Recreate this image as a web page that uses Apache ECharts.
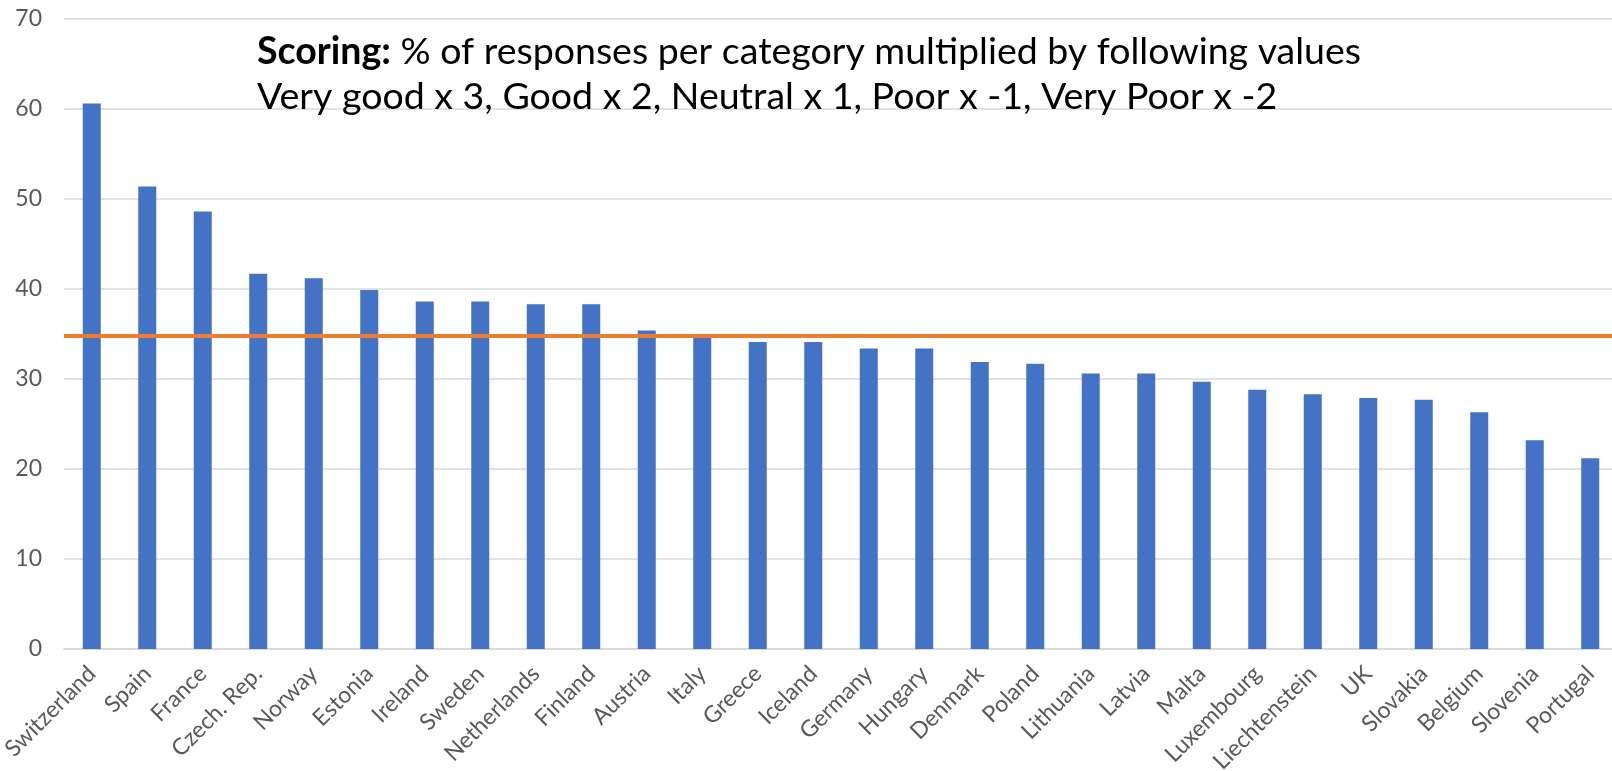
<!DOCTYPE html>
<html>
<head>
<meta charset="utf-8">
<script src="https://cdn.jsdelivr.net/npm/echarts@6/dist/echarts.min.js"></script>
<style>
html,body{margin:0;padding:0;background:#fff;}
#chart{width:1612px;height:771px;}
</style>
</head>
<body>
<div id="chart"></div>
<script>
const categories = ["Switzerland","Spain","France","Czech. Rep.","Norway","Estonia","Ireland","Sweden","Netherlands","Finland","Austria","Italy","Greece","Iceland","Germany","Hungary","Denmark","Poland","Lithuania","Latvia","Malta","Luxembourg","Liechtenstein","UK","Slovakia","Belgium","Slovenia","Portugal"];
const scores = [60.6,51.4,48.6,41.7,41.2,39.9,38.6,38.6,38.3,38.3,35.4,34.7,34.1,34.1,33.4,33.4,31.9,31.7,30.6,30.6,29.7,28.8,28.3,27.9,27.7,26.3,23.2,21.2];
const averageScore = 34.8;
const yTicks = {min: 0, max: 70, interval: 10};
const titleLine1Bold = "Scoring:";
const titleLine1 = " % of responses per category multiplied by following values";
const titleLine2 = "Very good x 3, Good x 2, Neutral x 1, Poor x -1, Very Poor x -2";

const chart = echarts.init(document.getElementById('chart'));
chart.setOption({
  animation: false,
  backgroundColor: '#ffffff',
  title: {
    text: '{b|' + titleLine1Bold + '}{n|' + titleLine1 + '}\n{n|' + titleLine2 + '}',
    left: 252,
    top: 24,
    textStyle: {
      fontWeight: 'normal',
      rich: {
        b: {fontFamily: 'Lato', fontWeight: 'bold', fontSize: 37.5, color: '#000', lineHeight: 45},
        n: {fontFamily: 'Lato', fontWeight: 'normal', fontSize: 37.5, color: '#000', lineHeight: 45}
      }
    }
  },
  grid: {left: 64, right: -6, top: 19, bottom: 122, containLabel: false, outerBoundsMode: 'none'},
  xAxis: {
    type: 'category',
    data: categories,
    axisLine: {show: true, lineStyle: {color: '#d9d9d9', width: 2}},
    axisTick: {show: false},
    axisLabel: {rotate: 45, interval: 0, color: '#595959', fontFamily: 'Lato', fontSize: 23, margin: 21}
  },
  yAxis: {
    type: 'value',
    min: yTicks.min, max: yTicks.max, interval: yTicks.interval,
    axisLine: {show: false},
    axisTick: {show: false},
    splitLine: {lineStyle: {color: '#d9d9d9', width: 1.5}},
    axisLabel: {color: '#595959', fontFamily: 'Lato', fontSize: 23, margin: 22}
  },
  series: [{
    type: 'bar',
    data: scores,
    barWidth: 18,
    itemStyle: {color: '#4472c4'},
    markLine: {
      silent: true,
      symbol: 'none',
      label: {show: false},
      lineStyle: {color: '#ed7d31', width: 4, type: 'solid'},
      data: [{yAxis: averageScore}]
    }
  }]
});
</script>
</body>
</html>
